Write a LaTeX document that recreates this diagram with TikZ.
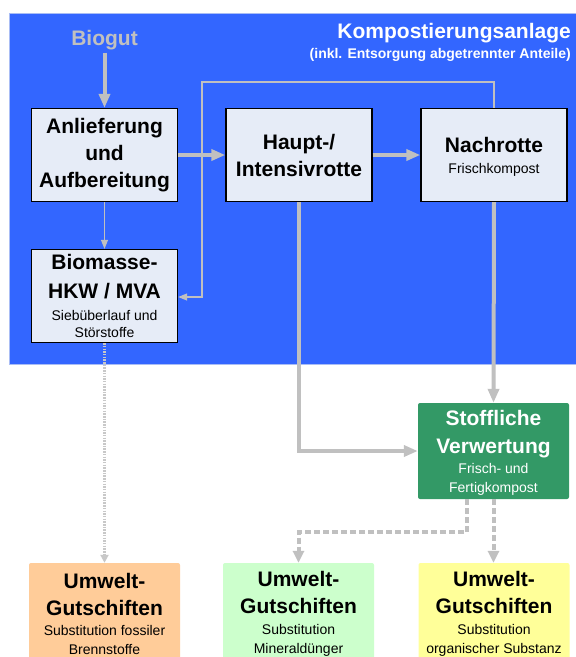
\documentclass[tikz,border=0pt]{standalone}
\usepackage{fontspec}
\setmainfont{Liberation Sans}
\usetikzlibrary{arrows.meta}
\definecolor{bgblue}{HTML}{3366FF}
\definecolor{bgedge}{HTML}{A9BDF5}
\definecolor{boxfill}{HTML}{E6ECF7}
\definecolor{flowgray}{HTML}{C0C0C0}
\definecolor{dotgray}{HTML}{C8C8C8}
\definecolor{stoffgreen}{HTML}{339966}
\definecolor{orangeb}{HTML}{FFCC99}
\definecolor{greenb}{HTML}{CCFFCC}
\definecolor{yellowb}{HTML}{FFFF99}
\newcommand\dgBig{\fontsize{21}{27}\selectfont\bfseries}
\newcommand\dgSmall{\fontsize{14}{19}\selectfont\mdseries}
\newcommand\dgSub{\fontsize{14}{17}\selectfont\bfseries}
\begin{document}
\begin{tikzpicture}[x=1pt,y=-1pt,
  procbox/.style={draw=black, line width=1.3pt, fill=boxfill, minimum width=146pt,
    minimum height=93pt, align=center, font=\dgBig, inner sep=0pt},
  stoffbox/.style={fill=stoffgreen, rounded corners=2pt, minimum width=151pt,
    minimum height=96pt, align=center, font=\dgBig, text=white, inner sep=0pt},
  creditbox/.style={rounded corners=2pt, minimum width=151pt, minimum height=102pt,
    align=center, font=\dgBig, inner sep=0pt},
  thickarrow/.style={draw=flowgray, line width=4pt, -{Triangle[length=14pt,width=11pt]}},
  thinarrow/.style={draw=flowgray, line width=1.2pt, -{Triangle[length=9pt,width=7pt]}},
  dottedarrow/.style={draw=dotgray, line width=2.5pt, dash pattern=on 1.5pt off 1.2pt,
    -{Triangle[length=8pt,width=8pt]}},
  dashedarrow/.style={draw=flowgray, line width=4pt, dash pattern=on 6pt off 3pt,
    -{Triangle[length=12pt,width=11pt]}},
  titletext/.style={text=white, inner sep=0pt, anchor=base east}
]
\useasboundingbox (0,0) rectangle (576,657);
\clip (0,0) rectangle (576,657);
\fill[white] (0,0) rectangle (576,657);

% plant area
\node[fill=bgblue, draw=bgedge, line width=0.8pt, minimum width=580pt, minimum height=351pt,
  anchor=north west, inner sep=0pt] (plant) at (9,13) {};
\node[titletext, font=\dgBig] (title) at (571,38.3) {Kompostierungsanlage};
\node[titletext, font=\dgSub] (subtitle) at (571,58.3) {(inkl. Entsorgung abgetrennter Anteile)};

% boxes
\node[anchor=base, font=\dgBig, text=flowgray, inner sep=3pt] (biogut) at (104.5,45) {Biogut};
\node[procbox] (anl) at (104.5,155) {Anlieferung\\und\\Aufbereitung};
\node[procbox] (haupt) at (299,155) {Haupt-/\\Intensivrotte};
\node[procbox] (nach) at (494,155) {\rule{0pt}{19pt}Nachrotte\\[-6.3pt]{\dgSmall Frischkompost}};
\node[procbox] (bio) at (104.5,296) {Biomasse-\\[2pt]HKW / MVA\\[-5.5pt]{\dgSmall Siebüberlauf und}\\[-10pt]{\dgSmall Störstoffe}};
\node[stoffbox] (stoff) at (493.5,451) {\rule{0pt}{19pt}Stoffliche\\[0.5pt]Verwertung\\[-7pt]{\dgSmall Frisch- und}\\[-8pt]{\dgSmall Fertigkompost}};
\node[creditbox, fill=orangeb] (cfossil) at (104.5,614) {Umwelt-\\Gutschiften\\[-6.5pt]{\dgSmall Substitution fossiler}\\[-8pt]{\dgSmall Brennstoffe}};
\node[creditbox, fill=greenb] (cmineral) at (298.5,614) {Umwelt-\\Gutschiften\\[-6.5pt]{\dgSmall Substitution}\\[-8pt]{\dgSmall Mineraldünger}};
\node[creditbox, fill=yellowb] (corganic) at (494,614) {Umwelt-\\Gutschiften\\[-6.5pt]{\dgSmall Substitution}\\[-8pt]{\dgSmall organischer Substanz}};

% loop back (sieve overflow) line
\coordinate (loopB) at (202,82);
\coordinate (loopC) at (202,297);
\draw[thinarrow] (nach.north) -- (nach.north |- loopB) -- (loopB) -- (loopC) -- (bio.east |- loopC);

% flows
\draw[thickarrow] (biogut.south) -- (anl.north);
\draw[thickarrow] (anl.east) -- (haupt.west);
\draw[thickarrow] (haupt.east) -- (nach.west);
\draw[thinarrow] (anl.south) -- (bio.north);
\draw[thickarrow] (haupt.south) |- (stoff.west);
\draw[thickarrow] (nach.south) -- (stoff.north);
\draw[dottedarrow] (bio.south) -- (cfossil.north);
\draw[dashedarrow] ([xshift=-26.5pt]stoff.south) -- ++(0,33) -| (cmineral.north);
\draw[dashedarrow] (stoff.south) -- (stoff.south |- corganic.north);
\end{tikzpicture}
\end{document}
